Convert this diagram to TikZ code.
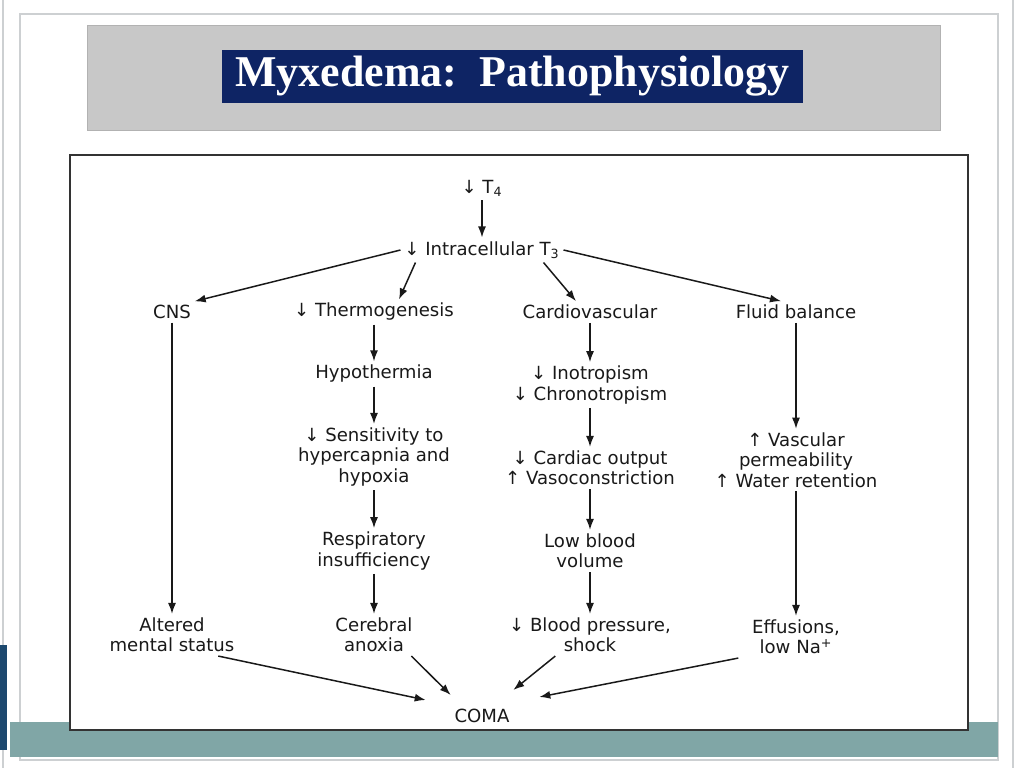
\documentclass[tikz,border=0pt]{standalone}
\usepackage{fontspec}
\setmainfont{Liberation Serif}
\newfontfamily\diagfont{DejaVu Sans}
\usepackage{xcolor}
\usetikzlibrary{positioning, arrows.meta, backgrounds, calc}

\definecolor{navy}{RGB}{14,36,100}
\definecolor{bannergray}{RGB}{200,200,200}
\definecolor{tealbar}{RGB}{128,166,166}
\definecolor{ink}{RGB}{25,25,25}
\definecolor{framegray}{RGB}{205,208,210}
\definecolor{sideblue}{RGB}{28,72,110}

\begin{document}
\begin{tikzpicture}[
    on grid,
    entry/.style={align=center, inner sep=2pt, text=ink, font={\diagfont\fontsize{10.3}{11.6}\selectfont}},
    arr/.style={-{Latex[length=2.2mm, width=1.6mm]}, line width=0.85pt, draw=ink},
]
\useasboundingbox (0,0) rectangle (20.48,-15.36);

% --- Slide frame ---
\fill[white] (0,0) rectangle (20.48,-15.36);
\draw[framegray, line width=0.6pt] (0.06,0) -- (0.06,-15.36);
\draw[framegray, line width=0.6pt] (20.26,0) -- (20.26,-15.36);
\draw[framegray, line width=0.8pt] (0.4,-0.28) rectangle (19.96,-15.2);
\fill[tealbar] (0.2,-14.44) rectangle (19.96,-15.14);
\fill[sideblue] (0,-12.9) rectangle (0.14,-15.0);
\draw[gray!60, fill=bannergray] (1.74,-0.5) rectangle (18.8,-2.6);
\node[fill=navy, text=white, minimum width=11.62cm, minimum height=1.06cm, font={\bfseries\fontsize{25}{25}\selectfont}] (title) at (10.25,-1.53) {Myxedema:\ \ Pathophysiology};
\draw[gray!40!black, line width=1pt, fill=white] (1.4,-3.1) rectangle (19.36,-14.6);

% --- Top ---
\node[entry] (t4) at (9.64,-3.76) {↓ T\textsubscript{4}};
\node[entry, below=1.24cm of t4] (intra) {↓ Intracellular T\textsubscript{3}};

% --- Branches ---
\node[entry, below left=1.24cm and 6.2cm of intra] (cns) {CNS};
\node[entry, below left=1.24cm and 2.16cm of intra] (thermo) {↓ Thermogenesis};
\node[entry, below right=1.24cm and 2.16cm of intra] (cardio) {Cardiovascular};
\node[entry, below right=1.24cm and 6.28cm of intra] (fluid) {Fluid balance};

% --- CNS column ---
\node[entry, below=6.46cm of cns] (altered) {Altered\\mental status};

% --- Thermogenesis column ---
\node[entry, below=1.24cm of thermo] (hypo) {Hypothermia};
\node[entry, below=1.66cm of hypo] (sens) {↓ Sensitivity to\\hypercapnia and\\hypoxia};
\node[entry, below=1.88cm of sens] (resp) {Respiratory\\insufficiency};
\node[entry, below=1.68cm of resp] (cerebral) {Cerebral\\anoxia};

% --- Cardiovascular column ---
\node[entry, below=1.46cm of cardio] (ino) {↓ Inotropism\\↓ Chronotropism};
\node[entry, below=1.66cm of ino] (output) {↓ Cardiac output\\↑ Vasoconstriction};
\node[entry, below=1.66cm of output] (lowvol) {Low blood\\volume};
\node[entry, below=1.68cm of lowvol] (bp) {↓ Blood pressure,\\shock};

% --- Fluid column ---
\node[entry, below=2.96cm of fluid] (vasc) {↑ Vascular\\permeability\\↑ Water retention};
\node[entry, below=3.54cm of vasc] (effusion) {Effusions,\\low Na\textsuperscript{+}};

% --- Outcome ---
\node[entry, below=1.4cm of $(cerebral)!0.5!(bp)$] (coma) {COMA};

% --- Arrows ---
\draw[arr] (t4) -- (intra);
\draw[arr] (intra.west) -- (cns.north east);
\draw[arr] ([xshift=0.3cm]intra.south west) -- ([xshift=0.5cm]thermo.north);
\draw[arr] ([xshift=-0.4cm]intra.south east) -- ([xshift=-0.28cm]cardio.north);
\draw[arr] (intra.east) -- ([xshift=-0.3cm]fluid.north);

\draw[arr] (cns) -- (altered);
\draw[arr] (thermo) -- (hypo);
\draw[arr] (hypo) -- (sens);
\draw[arr] (sens) -- (resp);
\draw[arr] (resp) -- (cerebral);
\draw[arr] (cardio) -- (ino);
\draw[arr] (ino) -- (output);
\draw[arr] (output) -- (lowvol);
\draw[arr] (lowvol) -- (bp);
\draw[arr] (fluid) -- (vasc);
\draw[arr] (vasc) -- (effusion);

\draw[arr] ([xshift=-0.4cm]altered.south east) -- ([xshift=-0.5cm, yshift=0.1cm]coma.north west);
\draw[arr] ([xshift=-0.1cm]cerebral.south east) -- ([yshift=0.2cm]coma.north west);
\draw[arr] ([xshift=1cm]bp.south west) -- ([yshift=0.3cm]coma.north east);
\draw[arr] ([xshift=-0.2cm]effusion.south west) -- ([xshift=0.52cm, yshift=0.16cm]coma.north east);
\end{tikzpicture}
\end{document}
